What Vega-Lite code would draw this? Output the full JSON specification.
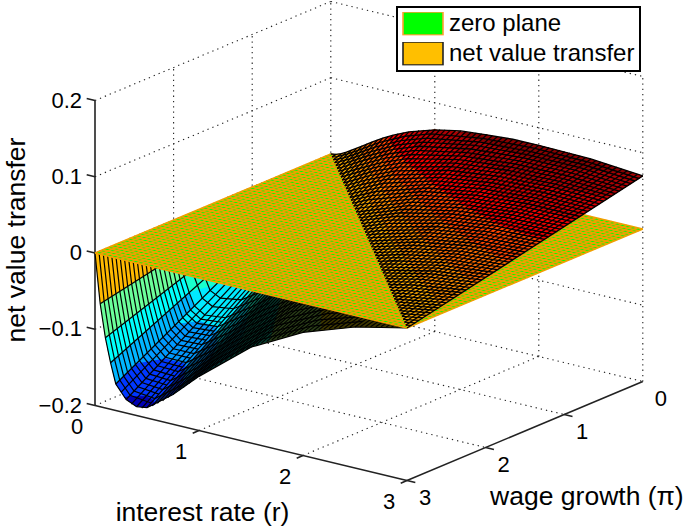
{"$schema":"https://vega.github.io/schema/vega-lite/v6.json","width":685,"height":530,"autosize":"none","padding":0,"background":"white","view":{"stroke":null},
"config":{"font":"Liberation Sans","text":{"font":"Liberation Sans","color":"black"},"legend":{"strokeWidth":2}},
"encoding":{"x":{"field":"sx","type":"quantitative","scale":{"domain":[0,685],"range":[0,685]},"axis":null},"y":{"field":"sy","type":"quantitative","scale":{"domain":[0,530],"range":[0,530]},"axis":null}},
"datasets":{
"grid":[{"g":1,"r":0,"p":0,"z":-0.2},{"g":1,"r":0,"p":3,"z":-0.2},{"g":2,"r":0,"p":0,"z":-0.1},{"g":2,"r":0,"p":3,"z":-0.1},{"g":3,"r":0,"p":0,"z":0},{"g":3,"r":0,"p":3,"z":0},{"g":4,"r":0,"p":0,"z":0.1},{"g":4,"r":0,"p":3,"z":0.1},{"g":5,"r":0,"p":0,"z":0.2},{"g":5,"r":0,"p":3,"z":0.2},{"g":6,"r":0,"p":0,"z":-0.2},{"g":6,"r":0,"p":0,"z":0.2},{"g":7,"r":0,"p":1,"z":-0.2},{"g":7,"r":0,"p":1,"z":0.2},{"g":8,"r":0,"p":2,"z":-0.2},{"g":8,"r":0,"p":2,"z":0.2},{"g":9,"r":0,"p":0,"z":-0.2},{"g":9,"r":3,"p":0,"z":-0.2},{"g":10,"r":0,"p":0,"z":-0.1},{"g":10,"r":3,"p":0,"z":-0.1},{"g":11,"r":0,"p":0,"z":0.1},{"g":11,"r":3,"p":0,"z":0.1},{"g":12,"r":0,"p":0,"z":0.2},{"g":12,"r":3,"p":0,"z":0.2},{"g":13,"r":1,"p":0,"z":-0.2},{"g":13,"r":1,"p":0,"z":0.2},{"g":14,"r":2,"p":0,"z":-0.2},{"g":14,"r":2,"p":0,"z":0.2},{"g":15,"r":3,"p":0,"z":-0.2},{"g":15,"r":3,"p":0,"z":0.2},{"g":16,"r":1,"p":0,"z":-0.2},{"g":16,"r":1,"p":3,"z":-0.2},{"g":17,"r":2,"p":0,"z":-0.2},{"g":17,"r":2,"p":3,"z":-0.2},{"g":18,"r":0,"p":1,"z":-0.2},{"g":18,"r":3,"p":1,"z":-0.2},{"g":19,"r":0,"p":2,"z":-0.2},{"g":19,"r":3,"p":2,"z":-0.2}],
"axes":[{"g":1,"r":0,"p":3,"z":-0.2},{"g":1,"r":3,"p":3,"z":-0.2},{"g":2,"r":3,"p":3,"z":-0.2},{"g":2,"r":3,"p":0,"z":-0.2},{"g":3,"r":0,"p":3,"z":-0.2},{"g":3,"r":0,"p":3,"z":0.2},{"g":4,"r":-0.08,"p":3,"z":0.2},{"g":4,"r":0,"p":3,"z":0.2},{"g":5,"r":-0.08,"p":3,"z":0.1},{"g":5,"r":0,"p":3,"z":0.1},{"g":6,"r":-0.08,"p":3,"z":0},{"g":6,"r":0,"p":3,"z":0},{"g":7,"r":-0.08,"p":3,"z":-0.1},{"g":7,"r":0,"p":3,"z":-0.1},{"g":8,"r":-0.08,"p":3,"z":-0.2},{"g":8,"r":0,"p":3,"z":-0.2},{"g":9,"r":1,"p":3,"z":-0.2},{"g":9,"r":1,"p":3.08,"z":-0.2},{"g":10,"r":2,"p":3,"z":-0.2},{"g":10,"r":2,"p":3.08,"z":-0.2},{"g":11,"r":3,"p":3,"z":-0.2},{"g":11,"r":3,"p":3.08,"z":-0.2},{"g":12,"r":3,"p":2,"z":-0.2},{"g":12,"r":3.08,"p":2,"z":-0.2},{"g":13,"r":3,"p":1,"z":-0.2},{"g":13,"r":3.08,"p":1,"z":-0.2},{"g":14,"r":3,"p":3,"z":-0.2},{"g":14,"r":3.08,"p":3,"z":-0.2}],
"neg":[{"v":-0.015,"r":0,"p":3,"z":0},{"v":-0.015,"r":0.05,"p":3,"z":-0.0649},{"v":-0.015,"r":0.1,"p":3,"z":-0.1079},{"v":-0.015,"r":0.15,"p":3,"z":-0.1391},{"v":-0.015,"r":0.2,"p":3,"z":-0.1652},{"v":-0.015,"r":0.3,"p":3,"z":-0.1823},{"v":-0.015,"r":0.4,"p":3,"z":-0.1885},{"v":-0.015,"r":0.5,"p":3,"z":-0.1863},{"v":-0.015,"r":0.75,"p":3,"z":-0.1609},{"v":-0.015,"r":1,"p":3,"z":-0.129},{"v":-0.015,"r":1.5,"p":3,"z":-0.0743},{"v":-0.015,"r":2,"p":3,"z":-0.0385},{"v":-0.015,"r":2.5,"p":3,"z":-0.0151},{"v":-0.015,"r":3,"p":3,"z":0},{"v":-0.015,"r":0,"p":0,"z":0},
{"v":-0.045,"r":0.022,"p":3,"z":-0.03},{"v":-0.045,"r":0.05,"p":1.41,"z":-0.03},{"v":-0.045,"r":0.1,"p":0.91,"z":-0.03},{"v":-0.045,"r":0.2,"p":0.7,"z":-0.03},{"v":-0.045,"r":0.5,"p":0.9,"z":-0.03},{"v":-0.045,"r":1,"p":1.47,"z":-0.03},{"v":-0.045,"r":1.5,"p":2.11,"z":-0.03},{"v":-0.045,"r":2,"p":2.77,"z":-0.03},{"v":-0.045,"r":2.17,"p":3,"z":-0.03},{"v":-0.045,"r":2,"p":3,"z":-0.0385},{"v":-0.045,"r":1.5,"p":3,"z":-0.0743},{"v":-0.045,"r":1,"p":3,"z":-0.129},{"v":-0.045,"r":0.75,"p":3,"z":-0.1609},{"v":-0.045,"r":0.5,"p":3,"z":-0.1863},{"v":-0.045,"r":0.4,"p":3,"z":-0.1885},{"v":-0.045,"r":0.3,"p":3,"z":-0.1823},{"v":-0.045,"r":0.2,"p":3,"z":-0.1652},{"v":-0.045,"r":0.15,"p":3,"z":-0.1391},{"v":-0.045,"r":0.1,"p":3,"z":-0.1079},{"v":-0.045,"r":0.05,"p":3,"z":-0.0649},
{"v":-0.075,"r":0.045,"p":3,"z":-0.06},{"v":-0.075,"r":0.05,"p":2.78,"z":-0.06},{"v":-0.075,"r":0.1,"p":1.71,"z":-0.06},{"v":-0.075,"r":0.15,"p":1.38,"z":-0.06},{"v":-0.075,"r":0.2,"p":1.21,"z":-0.06},{"v":-0.075,"r":0.3,"p":1.18,"z":-0.06},{"v":-0.075,"r":0.5,"p":1.305,"z":-0.06},{"v":-0.075,"r":1,"p":1.93,"z":-0.06},{"v":-0.075,"r":1.5,"p":2.71,"z":-0.06},{"v":-0.075,"r":1.68,"p":3,"z":-0.06},{"v":-0.075,"r":1.5,"p":3,"z":-0.0743},{"v":-0.075,"r":1,"p":3,"z":-0.129},{"v":-0.075,"r":0.75,"p":3,"z":-0.1609},{"v":-0.075,"r":0.5,"p":3,"z":-0.1863},{"v":-0.075,"r":0.4,"p":3,"z":-0.1885},{"v":-0.075,"r":0.3,"p":3,"z":-0.1823},{"v":-0.075,"r":0.2,"p":3,"z":-0.1652},{"v":-0.075,"r":0.15,"p":3,"z":-0.1391},{"v":-0.075,"r":0.1,"p":3,"z":-0.1079},
{"v":-0.105,"r":0.078,"p":3,"z":-0.09},{"v":-0.105,"r":0.1,"p":2.52,"z":-0.09},{"v":-0.105,"r":0.15,"p":1.99,"z":-0.09},{"v":-0.105,"r":0.2,"p":1.71,"z":-0.09},{"v":-0.105,"r":0.3,"p":1.62,"z":-0.09},{"v":-0.105,"r":0.5,"p":1.71,"z":-0.09},{"v":-0.105,"r":1,"p":2.395,"z":-0.09},{"v":-0.105,"r":1.25,"p":2.84,"z":-0.09},{"v":-0.105,"r":1.33,"p":3,"z":-0.09},{"v":-0.105,"r":1,"p":3,"z":-0.129},{"v":-0.105,"r":0.75,"p":3,"z":-0.1609},{"v":-0.105,"r":0.5,"p":3,"z":-0.1863},{"v":-0.105,"r":0.4,"p":3,"z":-0.1885},{"v":-0.105,"r":0.3,"p":3,"z":-0.1823},{"v":-0.105,"r":0.2,"p":3,"z":-0.1652},{"v":-0.105,"r":0.15,"p":3,"z":-0.1391},{"v":-0.105,"r":0.1,"p":3,"z":-0.1079},
{"v":-0.135,"r":0.115,"p":3,"z":-0.12},{"v":-0.135,"r":0.15,"p":2.61,"z":-0.12},{"v":-0.135,"r":0.2,"p":2.22,"z":-0.12},{"v":-0.135,"r":0.3,"p":2.06,"z":-0.12},{"v":-0.135,"r":0.5,"p":2.11,"z":-0.12},{"v":-0.135,"r":0.75,"p":2.44,"z":-0.12},{"v":-0.135,"r":1,"p":2.86,"z":-0.12},{"v":-0.135,"r":1.07,"p":3,"z":-0.12},{"v":-0.135,"r":1,"p":3,"z":-0.129},{"v":-0.135,"r":0.75,"p":3,"z":-0.1609},{"v":-0.135,"r":0.5,"p":3,"z":-0.1863},{"v":-0.135,"r":0.4,"p":3,"z":-0.1885},{"v":-0.135,"r":0.3,"p":3,"z":-0.1823},{"v":-0.135,"r":0.2,"p":3,"z":-0.1652},{"v":-0.135,"r":0.15,"p":3,"z":-0.1391},
{"v":-0.16,"r":0.17,"p":3,"z":-0.15},{"v":-0.16,"r":0.2,"p":2.72,"z":-0.15},{"v":-0.16,"r":0.3,"p":2.5,"z":-0.15},{"v":-0.16,"r":0.5,"p":2.51,"z":-0.15},{"v":-0.16,"r":0.75,"p":2.86,"z":-0.15},{"v":-0.16,"r":0.82,"p":3,"z":-0.15},{"v":-0.16,"r":0.75,"p":3,"z":-0.1609},{"v":-0.16,"r":0.5,"p":3,"z":-0.1863},{"v":-0.16,"r":0.4,"p":3,"z":-0.1885},{"v":-0.16,"r":0.3,"p":3,"z":-0.1823},{"v":-0.16,"r":0.2,"p":3,"z":-0.1652},
{"v":-0.185,"r":0.28,"p":3,"z":-0.18},{"v":-0.185,"r":0.3,"p":2.95,"z":-0.18},{"v":-0.185,"r":0.4,"p":2.88,"z":-0.18},{"v":-0.185,"r":0.5,"p":2.92,"z":-0.18},{"v":-0.185,"r":0.58,"p":3,"z":-0.18},{"v":-0.185,"r":0.5,"p":3,"z":-0.1863},{"v":-0.185,"r":0.4,"p":3,"z":-0.1885},{"v":-0.185,"r":0.3,"p":3,"z":-0.1823},
{"v":0,"r":0,"p":3,"z":0},{"v":0,"r":0,"p":2,"z":0},{"v":0,"r":0.05,"p":2,"z":-0.0429},{"v":0,"r":0.05,"p":3,"z":-0.0649},
{"v":-0.06,"r":0.05,"p":3,"z":-0.0649},{"v":-0.06,"r":0.05,"p":2,"z":-0.0429},{"v":-0.06,"r":0.1,"p":2,"z":-0.0707},{"v":-0.06,"r":0.1,"p":3,"z":-0.1079},
{"v":-0.095,"r":0.1,"p":3,"z":-0.1079},{"v":-0.095,"r":0.1,"p":2,"z":-0.0707},{"v":-0.095,"r":0.15,"p":2,"z":-0.0903},{"v":-0.095,"r":0.15,"p":3,"z":-0.1391},
{"v":-0.125,"r":0.15,"p":3,"z":-0.1391},{"v":-0.125,"r":0.15,"p":2,"z":-0.0903},{"v":-0.125,"r":0.2,"p":2,"z":-0.1071},{"v":-0.125,"r":0.2,"p":3,"z":-0.1652}],
"dim":[{"d":1,"r":0.55,"p":3,"z":-0.1825},{"d":1,"r":0.75,"p":3,"z":-0.1609},{"d":1,"r":1,"p":3,"z":-0.129},{"d":1,"r":1.5,"p":3,"z":-0.0743},{"d":1,"r":2,"p":3,"z":-0.0385},{"d":1,"r":2.5,"p":3,"z":-0.0151},{"d":1,"r":3,"p":3,"z":0},{"d":1,"r":0.55,"p":1.5,"z":-0.0708},
{"d":2,"r":0.8,"p":3,"z":-0.154},{"d":2,"r":1,"p":3,"z":-0.129},{"d":2,"r":1.5,"p":3,"z":-0.0743},{"d":2,"r":2,"p":3,"z":-0.0385},{"d":2,"r":2.5,"p":3,"z":-0.0151},{"d":2,"r":3,"p":3,"z":0},{"d":2,"r":0.8,"p":1.8,"z":-0.07}],
"pos":[{"v":0.005,"r":0,"p":0,"z":0},{"v":0.005,"r":3,"p":3,"z":0},{"v":0.005,"r":3,"p":0,"z":0.0696},{"v":0.005,"r":2.5,"p":0,"z":0.0755},{"v":0.005,"r":2,"p":0,"z":0.077},{"v":0.005,"r":1.5,"p":0,"z":0.0743},{"v":0.005,"r":1,"p":0,"z":0.0645},{"v":0.005,"r":0.75,"p":0,"z":0.0536},{"v":0.005,"r":0.5,"p":0,"z":0.0373},{"v":0.005,"r":0.3,"p":0,"z":0.0203},{"v":0.005,"r":0.2,"p":0,"z":0.0118},{"v":0.005,"r":0.1,"p":0,"z":0.0037},
{"v":0.015,"r":0.18,"p":0,"z":0.01},{"v":0.015,"r":0.25,"p":0.094,"z":0.01},{"v":0.015,"r":0.5,"p":0.366,"z":0.01},{"v":0.015,"r":1,"p":0.845,"z":0.01},{"v":0.015,"r":1.5,"p":1.298,"z":0.01},{"v":0.015,"r":2,"p":1.744,"z":0.01},{"v":0.015,"r":2.5,"p":2.167,"z":0.01},{"v":0.015,"r":3,"p":2.569,"z":0.01},{"v":0.015,"r":3,"p":0,"z":0.0696},{"v":0.015,"r":2.5,"p":0,"z":0.0755},{"v":0.015,"r":2,"p":0,"z":0.077},{"v":0.015,"r":1.5,"p":0,"z":0.0743},{"v":0.015,"r":1,"p":0,"z":0.0645},{"v":0.015,"r":0.75,"p":0,"z":0.0536},{"v":0.015,"r":0.5,"p":0,"z":0.0373},{"v":0.015,"r":0.3,"p":0,"z":0.0203},
{"v":0.025,"r":0.295,"p":0,"z":0.02},{"v":0.025,"r":0.5,"p":0.232,"z":0.02},{"v":0.025,"r":1,"p":0.69,"z":0.02},{"v":0.025,"r":1.5,"p":1.096,"z":0.02},{"v":0.025,"r":2,"p":1.487,"z":0.02},{"v":0.025,"r":2.5,"p":1.833,"z":0.02},{"v":0.025,"r":3,"p":2.138,"z":0.02},{"v":0.025,"r":3,"p":0,"z":0.0696},{"v":0.025,"r":2.5,"p":0,"z":0.0755},{"v":0.025,"r":2,"p":0,"z":0.077},{"v":0.025,"r":1.5,"p":0,"z":0.0743},{"v":0.025,"r":1,"p":0,"z":0.0645},{"v":0.025,"r":0.75,"p":0,"z":0.0536},{"v":0.025,"r":0.5,"p":0,"z":0.0373},
{"v":0.035,"r":0.41,"p":0,"z":0.03},{"v":0.035,"r":0.5,"p":0.097,"z":0.03},{"v":0.035,"r":1,"p":0.535,"z":0.03},{"v":0.035,"r":1.5,"p":0.894,"z":0.03},{"v":0.035,"r":2,"p":1.22,"z":0.03},{"v":0.035,"r":2.5,"p":1.5,"z":0.03},{"v":0.035,"r":3,"p":1.707,"z":0.03},{"v":0.035,"r":3,"p":0,"z":0.0696},{"v":0.035,"r":2.5,"p":0,"z":0.0755},{"v":0.035,"r":2,"p":0,"z":0.077},{"v":0.035,"r":1.5,"p":0,"z":0.0743},{"v":0.035,"r":1,"p":0,"z":0.0645},{"v":0.035,"r":0.75,"p":0,"z":0.0536},{"v":0.035,"r":0.5,"p":0,"z":0.0373},
{"v":0.045,"r":0.54,"p":0,"z":0.04},{"v":0.045,"r":0.75,"p":0.187,"z":0.04},{"v":0.045,"r":1,"p":0.38,"z":0.04},{"v":0.045,"r":1.5,"p":0.692,"z":0.04},{"v":0.045,"r":2,"p":0.96,"z":0.04},{"v":0.045,"r":2.5,"p":1.175,"z":0.04},{"v":0.045,"r":3,"p":1.276,"z":0.04},{"v":0.045,"r":3,"p":0,"z":0.0696},{"v":0.045,"r":2.5,"p":0,"z":0.0755},{"v":0.045,"r":2,"p":0,"z":0.077},{"v":0.045,"r":1.5,"p":0,"z":0.0743},{"v":0.045,"r":1,"p":0,"z":0.0645},{"v":0.045,"r":0.75,"p":0,"z":0.0536},
{"v":0.055,"r":0.7,"p":0,"z":0.05},{"v":0.055,"r":1,"p":0.225,"z":0.05},{"v":0.055,"r":1.5,"p":0.49,"z":0.05},{"v":0.055,"r":2,"p":0.7,"z":0.05},{"v":0.055,"r":2.5,"p":0.844,"z":0.05},{"v":0.055,"r":3,"p":0.845,"z":0.05},{"v":0.055,"r":3,"p":0,"z":0.0696},{"v":0.055,"r":2.5,"p":0,"z":0.0755},{"v":0.055,"r":2,"p":0,"z":0.077},{"v":0.055,"r":1.5,"p":0,"z":0.0743},{"v":0.055,"r":1,"p":0,"z":0.0645},{"v":0.055,"r":0.75,"p":0,"z":0.0536},
{"v":0.065,"r":0.89,"p":0,"z":0.06},{"v":0.065,"r":1,"p":0.07,"z":0.06},{"v":0.065,"r":1.5,"p":0.288,"z":0.06},{"v":0.065,"r":2,"p":0.44,"z":0.06},{"v":0.065,"r":2.5,"p":0.513,"z":0.06},{"v":0.065,"r":3,"p":0.414,"z":0.06},{"v":0.065,"r":3,"p":0,"z":0.0696},{"v":0.065,"r":2.5,"p":0,"z":0.0755},{"v":0.065,"r":2,"p":0,"z":0.077},{"v":0.065,"r":1.5,"p":0,"z":0.0743},{"v":0.065,"r":1,"p":0,"z":0.0645},
{"v":0.075,"r":1.19,"p":0,"z":0.07},{"v":0.075,"r":1.5,"p":0.086,"z":0.07},{"v":0.075,"r":2,"p":0.182,"z":0.07},{"v":0.075,"r":2.5,"p":0.18,"z":0.07},{"v":0.075,"r":2.95,"p":0.005,"z":0.07},{"v":0.075,"r":2.5,"p":0,"z":0.0755},{"v":0.075,"r":2,"p":0,"z":0.077},{"v":0.075,"r":1.5,"p":0,"z":0.0743}],
"plane":[{"r":0,"p":0,"z":0},{"r":3,"p":0,"z":0},{"r":3,"p":3,"z":0},{"r":0,"p":3,"z":0}],
"nl":[{"p":3,"r":0,"z":0},{"p":3,"r":0.05,"z":-0.0649},{"p":3,"r":0.1,"z":-0.1079},{"p":3,"r":0.15,"z":-0.1391},{"p":3,"r":0.2,"z":-0.1652},{"p":3,"r":0.3,"z":-0.1823},{"p":3,"r":0.4,"z":-0.1885},{"p":3,"r":0.5,"z":-0.1863},{"p":3,"r":0.75,"z":-0.1609},{"p":3,"r":1,"z":-0.129},{"p":3,"r":1.5,"z":-0.0743},{"p":3,"r":2,"z":-0.0385},{"p":3,"r":2.5,"z":-0.0151},{"p":3,"r":3,"z":0},
{"p":2.9,"r":0,"z":0},{"p":2.9,"r":0.05,"z":-0.0627},{"p":2.9,"r":0.1,"z":-0.1042},{"p":2.9,"r":0.15,"z":-0.1342},{"p":2.9,"r":0.2,"z":-0.1593},{"p":2.9,"r":0.3,"z":-0.1755},{"p":2.9,"r":0.5,"z":-0.1788},{"p":2.9,"r":0.75,"z":-0.1537},{"p":2.9,"r":1,"z":-0.1226},{"p":2.9,"r":1.5,"z":-0.0693},{"p":2.9,"r":2,"z":-0.0347},{"p":2.9,"r":2.5,"z":-0.0121},
{"p":2.8,"r":0,"z":0},{"p":2.8,"r":0.05,"z":-0.0605},{"p":2.8,"r":0.1,"z":-0.1004},{"p":2.8,"r":0.15,"z":-0.1293},{"p":2.8,"r":0.2,"z":-0.1534},{"p":2.8,"r":0.3,"z":-0.1688},{"p":2.8,"r":0.5,"z":-0.1714},{"p":2.8,"r":0.75,"z":-0.1466},{"p":2.8,"r":1,"z":-0.1161},{"p":2.8,"r":1.5,"z":-0.0644},{"p":2.8,"r":2,"z":-0.0308},{"p":2.8,"r":2.5,"z":-0.0091},
{"p":2.7,"r":0,"z":0},{"p":2.7,"r":0.05,"z":-0.0583},{"p":2.7,"r":0.1,"z":-0.0967},{"p":2.7,"r":0.15,"z":-0.1244},{"p":2.7,"r":0.2,"z":-0.1475},{"p":2.7,"r":0.3,"z":-0.162},{"p":2.7,"r":0.5,"z":-0.1639},{"p":2.7,"r":0.75,"z":-0.1394},{"p":2.7,"r":1,"z":-0.1097},{"p":2.7,"r":1.5,"z":-0.0594},{"p":2.7,"r":2,"z":-0.027},{"p":2.7,"r":2.5,"z":-0.006},
{"p":2.6,"r":0,"z":0},{"p":2.6,"r":0.05,"z":-0.0561},{"p":2.6,"r":0.1,"z":-0.093},{"p":2.6,"r":0.15,"z":-0.1196},{"p":2.6,"r":0.2,"z":-0.1416},{"p":2.6,"r":0.3,"z":-0.1553},{"p":2.6,"r":0.5,"z":-0.1565},{"p":2.6,"r":0.75,"z":-0.1323},{"p":2.6,"r":1,"z":-0.1032},{"p":2.6,"r":1.5,"z":-0.0545},{"p":2.6,"r":2,"z":-0.0231},{"p":2.6,"r":2.5,"z":-0.003},
{"p":2.5,"r":0,"z":0},{"p":2.5,"r":0.05,"z":-0.0539},{"p":2.5,"r":0.1,"z":-0.0893},{"p":2.5,"r":0.15,"z":-0.1147},{"p":2.5,"r":0.2,"z":-0.1357},{"p":2.5,"r":0.3,"z":-0.1485},{"p":2.5,"r":0.5,"z":-0.149},{"p":2.5,"r":0.75,"z":-0.1251},{"p":2.5,"r":1,"z":-0.0968},{"p":2.5,"r":1.5,"z":-0.0495},{"p":2.5,"r":2,"z":-0.0193},
{"p":2.4,"r":0,"z":0},{"p":2.4,"r":0.05,"z":-0.0517},{"p":2.4,"r":0.1,"z":-0.0856},{"p":2.4,"r":0.15,"z":-0.1098},{"p":2.4,"r":0.2,"z":-0.1298},{"p":2.4,"r":0.3,"z":-0.1418},{"p":2.4,"r":0.5,"z":-0.1416},{"p":2.4,"r":0.75,"z":-0.118},{"p":2.4,"r":1,"z":-0.0903},{"p":2.4,"r":1.5,"z":-0.0446},{"p":2.4,"r":2,"z":-0.0154},
{"p":2.3,"r":0,"z":0},{"p":2.3,"r":0.05,"z":-0.0495},{"p":2.3,"r":0.1,"z":-0.0818},{"p":2.3,"r":0.15,"z":-0.1049},{"p":2.3,"r":0.2,"z":-0.1239},{"p":2.3,"r":0.3,"z":-0.135},{"p":2.3,"r":0.5,"z":-0.1341},{"p":2.3,"r":0.75,"z":-0.1108},{"p":2.3,"r":1,"z":-0.0839},{"p":2.3,"r":1.5,"z":-0.0396},
{"p":2.2,"r":0,"z":0},{"p":2.2,"r":0.05,"z":-0.0473},{"p":2.2,"r":0.1,"z":-0.0781},{"p":2.2,"r":0.15,"z":-0.1001},{"p":2.2,"r":0.2,"z":-0.118},{"p":2.2,"r":0.3,"z":-0.1283},{"p":2.2,"r":0.5,"z":-0.1267},{"p":2.2,"r":0.75,"z":-0.1037},{"p":2.2,"r":1,"z":-0.0774},{"p":2.2,"r":1.5,"z":-0.0347},
{"p":2.1,"r":0,"z":0},{"p":2.1,"r":0.05,"z":-0.0451},{"p":2.1,"r":0.1,"z":-0.0744},{"p":2.1,"r":0.15,"z":-0.0952},{"p":2.1,"r":0.2,"z":-0.1121},{"p":2.1,"r":0.3,"z":-0.1215},{"p":2.1,"r":0.5,"z":-0.1192},{"p":2.1,"r":0.75,"z":-0.0965},{"p":2.1,"r":1,"z":-0.071},
{"p":2,"r":0,"z":0},{"p":2,"r":0.05,"z":-0.0429},{"p":2,"r":0.1,"z":-0.0707},{"p":2,"r":0.15,"z":-0.0903},{"p":2,"r":0.2,"z":-0.1062},{"p":2,"r":0.3,"z":-0.1148},{"p":2,"r":0.5,"z":-0.1118},{"p":2,"r":0.75,"z":-0.0894},{"p":2,"r":1,"z":-0.0645},
{"p":1.9,"r":0,"z":0},{"p":1.9,"r":0.1,"z":-0.067},{"p":1.9,"r":0.2,"z":-0.1003},{"p":1.9,"r":0.3,"z":-0.108},{"p":1.9,"r":0.5,"z":-0.1043},{"p":1.9,"r":0.75,"z":-0.0822},
{"p":1.8,"r":0,"z":0},{"p":1.8,"r":0.1,"z":-0.0632},{"p":1.8,"r":0.2,"z":-0.0944},{"p":1.8,"r":0.3,"z":-0.1013},{"p":1.8,"r":0.5,"z":-0.0969},{"p":1.8,"r":0.75,"z":-0.0751},
{"p":2.95,"r":0,"z":0},{"p":2.95,"r":0.05,"z":-0.0638},{"p":2.95,"r":0.1,"z":-0.106},{"p":2.95,"r":0.15,"z":-0.1366},{"p":2.95,"r":0.2,"z":-0.1623},{"p":2.95,"r":0.3,"z":-0.1789},{"p":2.95,"r":0.5,"z":-0.1825},
{"p":2.85,"r":0,"z":0},{"p":2.85,"r":0.05,"z":-0.0616},{"p":2.85,"r":0.1,"z":-0.1023},{"p":2.85,"r":0.15,"z":-0.1318},{"p":2.85,"r":0.2,"z":-0.1564},{"p":2.85,"r":0.3,"z":-0.1721},{"p":2.85,"r":0.5,"z":-0.1751},
{"p":2.75,"r":0,"z":0},{"p":2.75,"r":0.05,"z":-0.0594},{"p":2.75,"r":0.1,"z":-0.0986},{"p":2.75,"r":0.15,"z":-0.1269},{"p":2.75,"r":0.2,"z":-0.1505},{"p":2.75,"r":0.3,"z":-0.1654},{"p":2.75,"r":0.5,"z":-0.1676},
{"p":2.65,"r":0,"z":0},{"p":2.65,"r":0.05,"z":-0.0572},{"p":2.65,"r":0.1,"z":-0.0949},{"p":2.65,"r":0.15,"z":-0.122},{"p":2.65,"r":0.2,"z":-0.1446},{"p":2.65,"r":0.3,"z":-0.1586},{"p":2.65,"r":0.5,"z":-0.1602},
{"p":2.55,"r":0,"z":0},{"p":2.55,"r":0.05,"z":-0.055},{"p":2.55,"r":0.1,"z":-0.0912},{"p":2.55,"r":0.15,"z":-0.1171},{"p":2.55,"r":0.2,"z":-0.1387},{"p":2.55,"r":0.3,"z":-0.1519},{"p":2.55,"r":0.5,"z":-0.1527},
{"p":2.45,"r":0,"z":0},{"p":2.45,"r":0.05,"z":-0.0528},{"p":2.45,"r":0.1,"z":-0.0874},{"p":2.45,"r":0.15,"z":-0.1122},{"p":2.45,"r":0.2,"z":-0.1328},{"p":2.45,"r":0.3,"z":-0.1451},{"p":2.45,"r":0.5,"z":-0.1453},
{"p":2.35,"r":0,"z":0},{"p":2.35,"r":0.05,"z":-0.0506},{"p":2.35,"r":0.1,"z":-0.0837},{"p":2.35,"r":0.15,"z":-0.1073},{"p":2.35,"r":0.2,"z":-0.1269},{"p":2.35,"r":0.3,"z":-0.1384},{"p":2.35,"r":0.5,"z":-0.1378},
{"p":2.25,"r":0,"z":0},{"p":2.25,"r":0.05,"z":-0.0484},{"p":2.25,"r":0.1,"z":-0.08},{"p":2.25,"r":0.15,"z":-0.1025},{"p":2.25,"r":0.2,"z":-0.121},{"p":2.25,"r":0.3,"z":-0.1316},{"p":2.25,"r":0.5,"z":-0.1304},
{"p":2.15,"r":0,"z":0},{"p":2.15,"r":0.05,"z":-0.0462},{"p":2.15,"r":0.1,"z":-0.0763},{"p":2.15,"r":0.15,"z":-0.0976},{"p":2.15,"r":0.2,"z":-0.1151},{"p":2.15,"r":0.3,"z":-0.1249},{"p":2.15,"r":0.5,"z":-0.1229},
{"p":2.05,"r":0,"z":0},{"p":2.05,"r":0.05,"z":-0.044},{"p":2.05,"r":0.1,"z":-0.0725},{"p":2.05,"r":0.15,"z":-0.0927},{"p":2.05,"r":0.2,"z":-0.1092},{"p":2.05,"r":0.3,"z":-0.1181},{"p":2.05,"r":0.5,"z":-0.1155}],
"pl":[{"p":0,"r":0,"z":0},{"p":0,"r":0.05,"z":0.0011},{"p":0,"r":0.1,"z":0.0037},{"p":0,"r":0.15,"z":0.0073},{"p":0,"r":0.2,"z":0.0118},{"p":0,"r":0.3,"z":0.0203},{"p":0,"r":0.4,"z":0.029},{"p":0,"r":0.5,"z":0.0373},{"p":0,"r":0.6,"z":0.0444},{"p":0,"r":0.75,"z":0.0536},{"p":0,"r":1,"z":0.0645},{"p":0,"r":1.25,"z":0.0713},{"p":0,"r":1.5,"z":0.0743},{"p":0,"r":1.75,"z":0.0767},{"p":0,"r":2,"z":0.077},{"p":0,"r":2.5,"z":0.0755},{"p":0,"r":3,"z":0.0696},
{"p":0.05,"r":0.05,"z":0},{"p":0.05,"r":0.1,"z":0.0019},{"p":0.05,"r":0.2,"z":0.0089},{"p":0.05,"r":0.3,"z":0.0169},{"p":0.05,"r":0.5,"z":0.0336},{"p":0.05,"r":0.75,"z":0.05},{"p":0.05,"r":1,"z":0.0613},{"p":0.05,"r":1.5,"z":0.0718},{"p":0.05,"r":2,"z":0.0751},{"p":0.05,"r":2.5,"z":0.074},{"p":0.05,"r":3,"z":0.0684},
{"p":0.1,"r":0.1,"z":0},{"p":0.1,"r":0.2,"z":0.0059},{"p":0.1,"r":0.3,"z":0.0135},{"p":0.1,"r":0.5,"z":0.0298},{"p":0.1,"r":0.75,"z":0.0464},{"p":0.1,"r":1,"z":0.058},{"p":0.1,"r":1.5,"z":0.0693},{"p":0.1,"r":2,"z":0.0731},{"p":0.1,"r":2.5,"z":0.0725},{"p":0.1,"r":3,"z":0.0673},
{"p":0.15,"r":0.15,"z":0},{"p":0.15,"r":0.2,"z":0.003},{"p":0.15,"r":0.3,"z":0.0101},{"p":0.15,"r":0.5,"z":0.0261},{"p":0.15,"r":0.75,"z":0.0429},{"p":0.15,"r":1,"z":0.0548},{"p":0.15,"r":1.5,"z":0.0669},{"p":0.15,"r":2,"z":0.0712},{"p":0.15,"r":2.5,"z":0.071},{"p":0.15,"r":3,"z":0.0661},
{"p":0.2,"r":0.2,"z":0},{"p":0.2,"r":0.3,"z":0.0068},{"p":0.2,"r":0.5,"z":0.0224},{"p":0.2,"r":0.75,"z":0.0393},{"p":0.2,"r":1,"z":0.0516},{"p":0.2,"r":1.5,"z":0.0644},{"p":0.2,"r":2,"z":0.0693},{"p":0.2,"r":2.5,"z":0.0695},{"p":0.2,"r":3,"z":0.065},
{"p":0.25,"r":0.25,"z":0},{"p":0.25,"r":0.3,"z":0.0034},{"p":0.25,"r":0.5,"z":0.0187},{"p":0.25,"r":0.75,"z":0.0357},{"p":0.25,"r":1,"z":0.0484},{"p":0.25,"r":1.5,"z":0.0619},{"p":0.25,"r":2,"z":0.0674},{"p":0.25,"r":2.5,"z":0.068},{"p":0.25,"r":3,"z":0.0638},
{"p":0.3,"r":0.3,"z":0},{"p":0.3,"r":0.5,"z":0.0149},{"p":0.3,"r":0.75,"z":0.0321},{"p":0.3,"r":1,"z":0.0451},{"p":0.3,"r":1.5,"z":0.0594},{"p":0.3,"r":2,"z":0.0654},{"p":0.3,"r":2.5,"z":0.0664},{"p":0.3,"r":3,"z":0.0626},
{"p":0.35,"r":0.35,"z":0},{"p":0.35,"r":0.5,"z":0.0112},{"p":0.35,"r":0.75,"z":0.0285},{"p":0.35,"r":1,"z":0.0419},{"p":0.35,"r":1.5,"z":0.0569},{"p":0.35,"r":2,"z":0.0635},{"p":0.35,"r":2.5,"z":0.0649},{"p":0.35,"r":3,"z":0.0615},
{"p":0.4,"r":0.4,"z":0},{"p":0.4,"r":0.5,"z":0.0075},{"p":0.4,"r":0.75,"z":0.025},{"p":0.4,"r":1,"z":0.0387},{"p":0.4,"r":1.5,"z":0.0545},{"p":0.4,"r":2,"z":0.0616},{"p":0.4,"r":2.5,"z":0.0634},{"p":0.4,"r":3,"z":0.0603},
{"p":0.45,"r":0.45,"z":0},{"p":0.45,"r":0.5,"z":0.0037},{"p":0.45,"r":0.75,"z":0.0214},{"p":0.45,"r":1,"z":0.0354},{"p":0.45,"r":1.5,"z":0.052},{"p":0.45,"r":2,"z":0.0596},{"p":0.45,"r":2.5,"z":0.0619},{"p":0.45,"r":3,"z":0.0592},
{"p":0.5,"r":0.5,"z":0},{"p":0.5,"r":0.75,"z":0.0178},{"p":0.5,"r":1,"z":0.0322},{"p":0.5,"r":1.5,"z":0.0495},{"p":0.5,"r":2,"z":0.0577},{"p":0.5,"r":2.5,"z":0.0604},{"p":0.5,"r":3,"z":0.058},
{"p":0.55,"r":0.55,"z":0},{"p":0.55,"r":0.75,"z":0.0142},{"p":0.55,"r":1,"z":0.029},{"p":0.55,"r":1.5,"z":0.047},{"p":0.55,"r":2,"z":0.0558},{"p":0.55,"r":2.5,"z":0.0589},{"p":0.55,"r":3,"z":0.0568},
{"p":0.6,"r":0.6,"z":0},{"p":0.6,"r":0.75,"z":0.0106},{"p":0.6,"r":1,"z":0.0257},{"p":0.6,"r":1.5,"z":0.0445},{"p":0.6,"r":2,"z":0.0538},{"p":0.6,"r":2.5,"z":0.0574},{"p":0.6,"r":3,"z":0.0557},
{"p":0.65,"r":0.65,"z":0},{"p":0.65,"r":0.75,"z":0.0071},{"p":0.65,"r":1,"z":0.0225},{"p":0.65,"r":1.5,"z":0.0421},{"p":0.65,"r":2,"z":0.0519},{"p":0.65,"r":2.5,"z":0.0559},{"p":0.65,"r":3,"z":0.0545},
{"p":0.7,"r":0.7,"z":0},{"p":0.7,"r":0.75,"z":0.0035},{"p":0.7,"r":1,"z":0.0193},{"p":0.7,"r":1.5,"z":0.0396},{"p":0.7,"r":2,"z":0.05},{"p":0.7,"r":2.5,"z":0.0544},{"p":0.7,"r":3,"z":0.0534},
{"p":0.75,"r":0.75,"z":0},{"p":0.75,"r":1,"z":0.0161},{"p":0.75,"r":1.5,"z":0.0371},{"p":0.75,"r":2,"z":0.0481},{"p":0.75,"r":2.5,"z":0.0529},{"p":0.75,"r":3,"z":0.0522},
{"p":0.8,"r":0.8,"z":0},{"p":0.8,"r":1,"z":0.0128},{"p":0.8,"r":1.5,"z":0.0346},{"p":0.8,"r":2,"z":0.0461},{"p":0.8,"r":2.5,"z":0.0513},{"p":0.8,"r":3,"z":0.051},
{"p":0.85,"r":0.85,"z":0},{"p":0.85,"r":1,"z":0.0096},{"p":0.85,"r":1.5,"z":0.0321},{"p":0.85,"r":2,"z":0.0442},{"p":0.85,"r":2.5,"z":0.0498},{"p":0.85,"r":3,"z":0.0499},
{"p":0.9,"r":0.9,"z":0},{"p":0.9,"r":1,"z":0.0064},{"p":0.9,"r":1.5,"z":0.0297},{"p":0.9,"r":2,"z":0.0423},{"p":0.9,"r":2.5,"z":0.0483},{"p":0.9,"r":3,"z":0.0487},
{"p":0.95,"r":0.95,"z":0},{"p":0.95,"r":1,"z":0.0032},{"p":0.95,"r":1.5,"z":0.0272},{"p":0.95,"r":2,"z":0.0403},{"p":0.95,"r":2.5,"z":0.0468},{"p":0.95,"r":3,"z":0.0476},
{"p":1,"r":1,"z":0},{"p":1,"r":1.5,"z":0.0247},{"p":1,"r":2,"z":0.0384},{"p":1,"r":2.5,"z":0.0453},{"p":1,"r":3,"z":0.0464},
{"p":1.05,"r":1.05,"z":0},{"p":1.05,"r":1.5,"z":0.0222},{"p":1.05,"r":2,"z":0.0365},{"p":1.05,"r":2.5,"z":0.0438},{"p":1.05,"r":3,"z":0.0452},
{"p":1.1,"r":1.1,"z":0},{"p":1.1,"r":1.5,"z":0.0197},{"p":1.1,"r":2,"z":0.0345},{"p":1.1,"r":2.5,"z":0.0423},{"p":1.1,"r":3,"z":0.0441},
{"p":1.15,"r":1.15,"z":0},{"p":1.15,"r":1.5,"z":0.0173},{"p":1.15,"r":2,"z":0.0326},{"p":1.15,"r":2.5,"z":0.0408},{"p":1.15,"r":3,"z":0.0429},
{"p":1.2,"r":1.2,"z":0},{"p":1.2,"r":1.5,"z":0.0148},{"p":1.2,"r":2,"z":0.0307},{"p":1.2,"r":2.5,"z":0.0393},{"p":1.2,"r":3,"z":0.0418},
{"p":1.25,"r":1.25,"z":0},{"p":1.25,"r":1.5,"z":0.0123},{"p":1.25,"r":2,"z":0.0288},{"p":1.25,"r":2.5,"z":0.0378},{"p":1.25,"r":3,"z":0.0406},
{"p":1.3,"r":1.3,"z":0},{"p":1.3,"r":1.5,"z":0.0098},{"p":1.3,"r":2,"z":0.0268},{"p":1.3,"r":2.5,"z":0.0362},{"p":1.3,"r":3,"z":0.0394},
{"p":1.35,"r":1.35,"z":0},{"p":1.35,"r":1.5,"z":0.0073},{"p":1.35,"r":2,"z":0.0249},{"p":1.35,"r":2.5,"z":0.0347},{"p":1.35,"r":3,"z":0.0383},
{"p":1.4,"r":1.4,"z":0},{"p":1.4,"r":1.5,"z":0.0049},{"p":1.4,"r":2,"z":0.023},{"p":1.4,"r":2.5,"z":0.0332},{"p":1.4,"r":3,"z":0.0371},
{"p":1.45,"r":1.45,"z":0},{"p":1.45,"r":1.5,"z":0.0024},{"p":1.45,"r":2,"z":0.021},{"p":1.45,"r":2.5,"z":0.0317},{"p":1.45,"r":3,"z":0.036},
{"p":1.5,"r":1.5,"z":0},{"p":1.5,"r":2,"z":0.0191},{"p":1.5,"r":2.5,"z":0.0302},{"p":1.5,"r":3,"z":0.0348},
{"p":1.55,"r":1.55,"z":0},{"p":1.55,"r":2,"z":0.0172},{"p":1.55,"r":2.5,"z":0.0287},{"p":1.55,"r":3,"z":0.0336},
{"p":1.6,"r":1.6,"z":0},{"p":1.6,"r":2,"z":0.0152},{"p":1.6,"r":2.5,"z":0.0272},{"p":1.6,"r":3,"z":0.0325},
{"p":1.65,"r":1.65,"z":0},{"p":1.65,"r":2,"z":0.0133},{"p":1.65,"r":2.5,"z":0.0257},{"p":1.65,"r":3,"z":0.0313},
{"p":1.7,"r":1.7,"z":0},{"p":1.7,"r":2,"z":0.0114},{"p":1.7,"r":2.5,"z":0.0242},{"p":1.7,"r":3,"z":0.0302},
{"p":1.75,"r":1.75,"z":0},{"p":1.75,"r":2,"z":0.0095},{"p":1.75,"r":2.5,"z":0.0227},{"p":1.75,"r":3,"z":0.029},
{"p":1.8,"r":1.8,"z":0},{"p":1.8,"r":2,"z":0.0075},{"p":1.8,"r":2.5,"z":0.0211},{"p":1.8,"r":3,"z":0.0278},
{"p":1.85,"r":1.85,"z":0},{"p":1.85,"r":2,"z":0.0056},{"p":1.85,"r":2.5,"z":0.0196},{"p":1.85,"r":3,"z":0.0267},
{"p":1.9,"r":1.9,"z":0},{"p":1.9,"r":2,"z":0.0037},{"p":1.9,"r":2.5,"z":0.0181},{"p":1.9,"r":3,"z":0.0255},
{"p":1.95,"r":1.95,"z":0},{"p":1.95,"r":2,"z":0.0017},{"p":1.95,"r":2.5,"z":0.0166},{"p":1.95,"r":3,"z":0.0244},
{"p":2,"r":2,"z":0},{"p":2,"r":2.5,"z":0.0151},{"p":2,"r":3,"z":0.0232},
{"p":2.05,"r":2.05,"z":0},{"p":2.05,"r":2.5,"z":0.0136},{"p":2.05,"r":3,"z":0.022},
{"p":2.1,"r":2.1,"z":0},{"p":2.1,"r":2.5,"z":0.0121},{"p":2.1,"r":3,"z":0.0209},
{"p":2.15,"r":2.15,"z":0},{"p":2.15,"r":2.5,"z":0.0106},{"p":2.15,"r":3,"z":0.0197},
{"p":2.2,"r":2.2,"z":0},{"p":2.2,"r":2.5,"z":0.0091},{"p":2.2,"r":3,"z":0.0186},
{"p":2.25,"r":2.25,"z":0},{"p":2.25,"r":2.5,"z":0.0076},{"p":2.25,"r":3,"z":0.0174},
{"p":2.3,"r":2.3,"z":0},{"p":2.3,"r":2.5,"z":0.006},{"p":2.3,"r":3,"z":0.0162},
{"p":2.35,"r":2.35,"z":0},{"p":2.35,"r":2.5,"z":0.0045},{"p":2.35,"r":3,"z":0.0151},
{"p":2.4,"r":2.4,"z":0},{"p":2.4,"r":2.5,"z":0.003},{"p":2.4,"r":3,"z":0.0139},
{"p":2.45,"r":2.45,"z":0},{"p":2.45,"r":2.5,"z":0.0015},{"p":2.45,"r":3,"z":0.0128},
{"p":2.5,"r":2.5,"z":0},{"p":2.5,"r":3,"z":0.0116},{"p":2.55,"r":2.55,"z":0},{"p":2.55,"r":3,"z":0.0104},{"p":2.6,"r":2.6,"z":0},{"p":2.6,"r":3,"z":0.0093},{"p":2.65,"r":2.65,"z":0},{"p":2.65,"r":3,"z":0.0081},{"p":2.7,"r":2.7,"z":0},{"p":2.7,"r":3,"z":0.007},{"p":2.75,"r":2.75,"z":0},{"p":2.75,"r":3,"z":0.0058},{"p":2.8,"r":2.8,"z":0},{"p":2.8,"r":3,"z":0.0046},{"p":2.85,"r":2.85,"z":0},{"p":2.85,"r":3,"z":0.0035},{"p":2.9,"r":2.9,"z":0},{"p":2.9,"r":3,"z":0.0023},{"p":2.95,"r":2.95,"z":0},{"p":2.95,"r":3,"z":0.0012}],
"rl":[{"r":0.05,"a":0.0011,"b":-0.0649},{"r":0.1,"a":0.0037,"b":-0.1079},{"r":0.15,"a":0.0073,"b":-0.1391},{"r":0.2,"a":0.0118,"b":-0.1652},{"r":0.25,"a":0.0159,"b":-0.1746},{"r":0.3,"a":0.0203,"b":-0.1823},{"r":0.35,"a":0.0247,"b":-0.1868},{"r":0.4,"a":0.029,"b":-0.1885},{"r":0.45,"a":0.0333,"b":-0.1887},{"r":0.5,"a":0.0373,"b":-0.1863},{"r":0.55,"a":0.041,"b":-0.1825},{"r":0.6,"a":0.0444,"b":-0.1776},{"r":0.65,"a":0.0478,"b":-0.1727},{"r":0.7,"a":0.0508,"b":-0.1668},{"r":0.75,"a":0.0536,"b":-0.1609},{"r":0.8,"a":0.056,"b":-0.154},{"r":0.85,"a":0.0587,"b":-0.1484},{"r":0.9,"a":0.0608,"b":-0.1418},{"r":0.95,"a":0.0627,"b":-0.1353},{"r":1,"a":0.0645,"b":-0.129},{"r":1.05,"a":0.0662,"b":-0.1229},{"r":1.1,"a":0.0677,"b":-0.1169},{"r":1.15,"a":0.069,"b":-0.111},{"r":1.2,"a":0.0702,"b":-0.1053},{"r":1.25,"a":0.0713,"b":-0.0998},{"r":1.3,"a":0.0722,"b":-0.0944},{"r":1.35,"a":0.0729,"b":-0.0891},{"r":1.4,"a":0.0735,"b":-0.084},{"r":1.45,"a":0.074,"b":-0.0791},{"r":1.5,"a":0.0743,"b":-0.0743},{"r":1.55,"a":0.0744,"b":-0.0696},{"r":1.6,"a":0.0752,"b":-0.0658},{"r":1.65,"a":0.0759,"b":-0.0621},{"r":1.7,"a":0.0763,"b":-0.0584},{"r":1.75,"a":0.0767,"b":-0.0548},{"r":1.8,"a":0.0769,"b":-0.0512},{"r":1.85,"a":0.077,"b":-0.0478},{"r":1.9,"a":0.077,"b":-0.0446},{"r":1.95,"a":0.077,"b":-0.0415},{"r":2,"a":0.077,"b":-0.0385},{"r":2.05,"a":0.0769,"b":-0.0356},{"r":2.1,"a":0.0771,"b":-0.033},{"r":2.15,"a":0.077,"b":-0.0304},{"r":2.2,"a":0.077,"b":-0.028},{"r":2.25,"a":0.0767,"b":-0.0256},{"r":2.3,"a":0.0766,"b":-0.0233},{"r":2.35,"a":0.0764,"b":-0.0211},{"r":2.4,"a":0.0761,"b":-0.019},{"r":2.45,"a":0.0757,"b":-0.017},{"r":2.5,"a":0.0755,"b":-0.0151},{"r":2.55,"a":0.075,"b":-0.0132},{"r":2.6,"a":0.0746,"b":-0.0115},{"r":2.65,"a":0.0742,"b":-0.0098},{"r":2.7,"a":0.0734,"b":-0.0082},{"r":2.75,"a":0.0729,"b":-0.0066},{"r":2.8,"a":0.0722,"b":-0.0052},{"r":2.85,"a":0.0715,"b":-0.0038},{"r":2.9,"a":0.0711,"b":-0.0025},{"r":2.95,"a":0.0702,"b":-0.0012},{"r":3,"a":0.0696,"b":0}],
"steps":[{"v":0},{"v":0.05},{"v":0.1},{"v":0.15},{"v":0.2},{"v":0.25},{"v":0.3},{"v":0.35},{"v":0.4},{"v":0.45},{"v":0.5},{"v":0.55},{"v":0.6},{"v":0.65},{"v":0.7},{"v":0.75},{"v":0.8},{"v":0.85},{"v":0.9},{"v":0.95},{"v":1},{"v":1.05},{"v":1.1},{"v":1.15},{"v":1.2},{"v":1.25},{"v":1.3},{"v":1.35},{"v":1.4},{"v":1.45},{"v":1.5},{"v":1.55},{"v":1.6},{"v":1.65},{"v":1.7},{"v":1.75},{"v":1.8},{"v":1.85},{"v":1.9},{"v":1.95},{"v":2},{"v":2.05},{"v":2.1},{"v":2.15},{"v":2.2},{"v":2.25},{"v":2.3},{"v":2.35},{"v":2.4},{"v":2.45},{"v":2.5},{"v":2.55},{"v":2.6},{"v":2.65},{"v":2.7},{"v":2.75},{"v":2.8},{"v":2.85},{"v":2.9},{"v":2.95},{"v":3}]
},
"resolve":{"scale":{"fill":"independent","stroke":"independent"}},
"layer":[
{"data":{"name":"grid"},"transform":[{"calculate":"95+104*datum.r+78.6*(3-datum.p)","as":"sx"},{"calculate":"253+25*datum.r-33*(3-datum.p)-762.5*datum.z","as":"sy"}],"mark":{"type":"line","stroke":"#222","strokeWidth":1.1,"strokeDash":[1.3,4]},"encoding":{"detail":{"field":"g"},"order":{"value":null}}},
{"data":{"name":"axes"},"transform":[{"calculate":"95+104*datum.r+78.6*(3-datum.p)","as":"sx"},{"calculate":"253+25*datum.r-33*(3-datum.p)-762.5*datum.z","as":"sy"}],"mark":{"type":"line","stroke":"#222","strokeWidth":1.6},"encoding":{"detail":{"field":"g"},"order":{"value":null}}},
{"data":{"values":[{"t":"0.2","z":0.2},{"t":"0.1","z":0.1},{"t":"0","z":0},{"t":"−0.1","z":-0.1},{"t":"−0.2","z":-0.2}]},"transform":[{"calculate":"95","as":"sx"},{"calculate":"253-762.5*datum.z","as":"sy"}],"mark":{"type":"text","fontSize":22,"align":"right","baseline":"middle","dx":-13,"dy":0},"encoding":{"text":{"field":"t"}}},
{"data":{"values":[{"t":"0","r":0},{"t":"1","r":1},{"t":"2","r":2},{"t":"3","r":3}]},"transform":[{"calculate":"95+104*datum.r","as":"sx"},{"calculate":"253+25*datum.r+152.5","as":"sy"}],"mark":{"type":"text","fontSize":22,"align":"center","baseline":"middle","dx":-18,"dy":21},"encoding":{"text":{"field":"t"}}},
{"data":{"values":[{"t":"3","p":3},{"t":"2","p":2},{"t":"1","p":1},{"t":"0","p":0}]},"transform":[{"calculate":"407+78.6*(3-datum.p)","as":"sx"},{"calculate":"328-33*(3-datum.p)+152.5","as":"sy"}],"mark":{"type":"text","fontSize":22,"align":"center","baseline":"middle","dx":18,"dy":17.5},"encoding":{"text":{"field":"t"}}},
{"data":{"values":[{"t":"interest rate (r)","r":1.5}]},"transform":[{"calculate":"95+104*datum.r","as":"sx"},{"calculate":"253+25*datum.r+152.5","as":"sy"}],"mark":{"type":"text","fontSize":26.5,"align":"center","baseline":"middle","dx":-48.5,"dy":70},"encoding":{"text":{"field":"t"}}},
{"data":{"values":[{"t":"wage growth (π)","p":1.5}]},"transform":[{"calculate":"407+78.6*(3-datum.p)","as":"sx"},{"calculate":"328-33*(3-datum.p)+152.5","as":"sy"}],"mark":{"type":"text","fontSize":26.5,"align":"center","baseline":"middle","dx":62,"dy":66},"encoding":{"text":{"field":"t"}}},
{"data":{"values":[{"t":"net value transfer","z":0}]},"transform":[{"calculate":"95","as":"sx"},{"calculate":"253-762.5*datum.z","as":"sy"}],"mark":{"type":"text","fontSize":26.5,"align":"center","baseline":"middle","angle":270,"dx":13,"dy":-78},"encoding":{"text":{"field":"t"}}},
{"data":{"values":[{"s":"zero plane","r":1,"p":1},{"s":"net value transfer","r":1,"p":1}]},"transform":[{"calculate":"95+104*datum.r+78.6*(3-datum.p)","as":"sx"},{"calculate":"253+25*datum.r-33*(3-datum.p)","as":"sy"}],"mark":{"type":"point","filled":true,"size":4,"opacity":1},"encoding":{"fill":{"field":"s","type":"nominal","scale":{"domain":["zero plane","net value transfer"],"range":["#00ff00","#ffbf00"]},"legend":{"orient":"none","legendX":397,"legendY":7,"title":null,"symbolType":"M-1,-0.575H1V0.575H-1Z","symbolSize":1600,"symbolStrokeWidth":1.6,"clipHeight":23,"labelFontSize":24,"labelFont":"Liberation Sans","labelColor":"black","labelOffset":5,"rowPadding":5,"padding":5,"fillColor":"white","strokeColor":"black","labelLimit":300}},"stroke":{"field":"s","type":"nominal","scale":{"domain":["zero plane","net value transfer"],"range":["#ffa030","#222222"]},"legend":{"orient":"none","legendX":397,"legendY":7,"title":null,"symbolType":"M-1,-0.575H1V0.575H-1Z","symbolSize":1600,"symbolStrokeWidth":1.6,"clipHeight":23,"labelFontSize":24,"labelFont":"Liberation Sans","labelColor":"black","labelOffset":5,"rowPadding":5,"padding":5,"fillColor":"white","strokeColor":"black","labelLimit":300}}}},
{"data":{"name":"neg"},"transform":[{"calculate":"95+104*datum.r+78.6*(3-datum.p)","as":"sx"},{"calculate":"253+25*datum.r-33*(3-datum.p)-762.5*datum.z","as":"sy"}],"mark":{"type":"line","strokeWidth":0},"encoding":{"fill":{"field":"v","type":"quantitative","legend":null,"scale":{"domain":[-0.2,-0.165,-0.096,-0.026,0.043,0.078],"range":["#000080","#0000ff","#00ffff","#ffff00","#ff0000","#800000"]}},"order":{"value":null}}},
{"data":{"name":"rl"},"transform":[{"calculate":"95+104*datum.r","as":"sx"},{"calculate":"253+25*datum.r-762.5*datum.b","as":"sy"},{"calculate":"95+104*datum.r+78.6*(3-datum.r)","as":"sx2"},{"calculate":"253+25*datum.r-33*(3-datum.r)","as":"sy2"}],"mark":{"type":"rule","stroke":"black","strokeWidth":1.2},"encoding":{"x2":{"field":"sx2"},"y2":{"field":"sy2"}}},
{"data":{"name":"nl"},"transform":[{"calculate":"95+104*datum.r+78.6*(3-datum.p)","as":"sx"},{"calculate":"253+25*datum.r-33*(3-datum.p)-762.5*datum.z","as":"sy"}],"mark":{"type":"line","stroke":"black","strokeWidth":1.2},"encoding":{"detail":{"field":"p"},"order":{"value":null}}},
{"data":{"name":"dim"},"transform":[{"calculate":"95+104*datum.r+78.6*(3-datum.p)","as":"sx"},{"calculate":"253+25*datum.r-33*(3-datum.p)-762.5*datum.z","as":"sy"}],"mark":{"type":"line","fill":"black","strokeWidth":0,"opacity":0.5},"encoding":{"detail":{"field":"d"},"order":{"value":null}}},
{"data":{"name":"plane"},"transform":[{"calculate":"95+104*datum.r+78.6*(3-datum.p)","as":"sx"},{"calculate":"253+25*datum.r-33*(3-datum.p)-762.5*datum.z","as":"sy"}],"mark":{"type":"line","fill":"#00ff00","strokeWidth":0},"encoding":{"order":{"value":null}}},
{"data":{"name":"steps"},"transform":[{"calculate":"95+104*datum.v+235.8","as":"sx"},{"calculate":"253+25*datum.v-99","as":"sy"},{"calculate":"95+104*datum.v","as":"sx2"},{"calculate":"253+25*datum.v","as":"sy2"}],"mark":{"type":"rule","stroke":"#f0a000","strokeWidth":1.55},"encoding":{"x2":{"field":"sx2"},"y2":{"field":"sy2"}}},
{"data":{"name":"steps"},"transform":[{"calculate":"95+78.6*(3-datum.v)","as":"sx"},{"calculate":"253-33*(3-datum.v)","as":"sy"},{"calculate":"407+78.6*(3-datum.v)","as":"sx2"},{"calculate":"328-33*(3-datum.v)","as":"sy2"}],"mark":{"type":"rule","stroke":"#f0a000","strokeWidth":1.55},"encoding":{"x2":{"field":"sx2"},"y2":{"field":"sy2"}}},
{"data":{"name":"pos"},"transform":[{"calculate":"95+104*datum.r+78.6*(3-datum.p)","as":"sx"},{"calculate":"253+25*datum.r-33*(3-datum.p)-762.5*datum.z","as":"sy"}],"mark":{"type":"line","strokeWidth":0},"encoding":{"fill":{"field":"v","type":"quantitative","legend":null,"scale":{"domain":[-0.2,-0.165,-0.096,-0.026,0.043,0.078],"range":["#000080","#0000ff","#00ffff","#ffff00","#ff0000","#800000"]}},"order":{"value":null}}},
{"data":{"name":"rl"},"transform":[{"calculate":"95+104*datum.r+235.8","as":"sx"},{"calculate":"253+25*datum.r-99-762.5*datum.a","as":"sy"},{"calculate":"95+104*datum.r+78.6*(3-datum.r)","as":"sx2"},{"calculate":"253+25*datum.r-33*(3-datum.r)","as":"sy2"}],"mark":{"type":"rule","stroke":"black","strokeWidth":1.35},"encoding":{"x2":{"field":"sx2"},"y2":{"field":"sy2"}}},
{"data":{"name":"pl"},"transform":[{"calculate":"95+104*datum.r+78.6*(3-datum.p)","as":"sx"},{"calculate":"253+25*datum.r-33*(3-datum.p)-762.5*datum.z","as":"sy"}],"mark":{"type":"line","stroke":"black","strokeWidth":1.35},"encoding":{"detail":{"field":"p"},"order":{"value":null}}}
]}
